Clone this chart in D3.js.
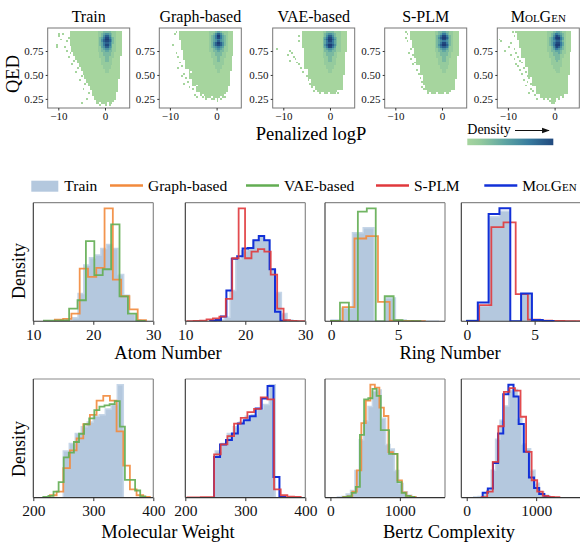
<!doctype html>
<html lang="en">
<head>
<meta charset="UTF-8" />
<title>Molecule property distributions</title>
<script src="https://d3js.org/d3.v7.min.js"></script>
<style>
  body, html { margin: 0; padding: 0; background: #fff; }
  svg { display: block; font-family: "Liberation Serif", "Times New Roman", serif; }
</style>
</head>
<body>
<svg id="chart" width="580" height="542"></svg>
<script>
// ---------- QED vs penalized logP (2D histograms, density level per cell, "." = empty)
const gridX0 = -12, gridDX = 0.4;   // logP bins, left to right
const gridY0 = 0.96, gridDY = 0.02; // QED bins, top row first
const heatTitles = ["Train", "Graph-based", "VAE-based", "S-PLM", "MolGen"];

const heatTrain = [
  "...........111111111111111" + "2223333222" + "111.",
  ".....1.1...111111111111111" + "2234554322" + "111.",
  ".....1.....111111111111111" + "2235775322" + "111.",
  "..........1111111111111111" + "2346886432" + "111.",
  "......1....111111111111111" + "2357997532" + "111.",
  ".........1.111111111111111" + "2357887532" + "111.",
  "...........111111111111111" + "2346776432" + "111.",
  "....1......111111111111111" + "2346886422" + "111.",
  "....1...1...11111111111111" + "2245775422" + "111.",
  "............11111111111111" + "2234554322" + "111.",
  ".........1..11111111111111" + "2233443322" + "111.",
  "...........1.1111111111111" + "1223333221" + "111.",
  ".............1111111111111" + "1223333221" + "111.",
  "..........1...111111111111" + "1222332221" + "11..",
  "..............111111111111" + "1122332211" + "11..",
  ".............1.11111111111" + "1122332211" + "11..",
  "...............11111111111" + "1122222211" + "11..",
  "............1...1111111111" + "1122222211" + "11..",
  "................1111111111" + "1112222111" + "11..",
  "...............1.111111111" + "1112222111" + "11..",
  ".................111111111" + "1111221111" + "11..",
  "..............1...11111111" + "1111221111" + "11..",
  "..................11111111" + "1111111111" + "11..",
  ".................1.1111111" + "1111111111" + "11..",
  "...................1111111" + "1111111111" + "11..",
  "................1...111111" + "1111111111" + "1...",
  "....................111111" + "1111111111" + "1...",
  "...................1.11111" + "1111111111" + "1...",
  ".....................11111" + "1111111111" + "1...",
  "......................1111" + "1111111111" + "1...",
  "..................1...1111" + "1111111111" + "1...",
  ".......................111" + "1111111111" + "1...",
  ".....................1.111" + "1111111111" + "....",
  ".......................111" + "1111111111" + "....",
  "........................11" + "1111111111" + "....",
  "....................1...11" + "1111111111" + "....",
  ".........................1" + "111111111." + "....",
  ".................1.......1" + "1.111.11.." + "....",
  ".........................." + ".1..1.1..." + "...."
];

const heatGraph = [
  "........1.1111111111111111" + "2223443222" + "111.",
  ".......1..1111111111111111" + "2235775322" + "111.",
  "..........1111111111111111" + "2346996432" + "111.",
  "..........1111111111111111" + "2346886432" + "111.",
  "..........1111111111111111" + "2345665432" + "111.",
  "...........111111111111111" + "2345775432" + "111.",
  "...........111111111111111" + "2357997532" + "111.",
  "......1....111111111111111" + "2357887532" + "111.",
  "...........111111111111111" + "2345665422" + "111.",
  "...........111111111111111" + "2234554322" + "111.",
  "............11111111111111" + "2233443322" + "111.",
  "........1...11111111111111" + "1223333221" + "111.",
  "............11111111111111" + "1223333221" + "111.",
  ".........1..11111111111111" + "1222332221" + "11..",
  "............11111111111111" + "1122332211" + "11..",
  ".............1111111111111" + "1122332211" + "11..",
  "..........1..1111111111111" + "1122222211" + "11..",
  ".............1111111111111" + "1122222211" + "11..",
  "...........1.1111111111111" + "1112222111" + "11..",
  ".........1...1111111111111" + "1112222111" + "11..",
  "...............11111111111" + "1111221111" + "11..",
  "...............1.111111111" + "1111221111" + "1...",
  "............1..11111111111" + "1111111111" + "1...",
  "...........1...11111111111" + "1111111111" + "1...",
  ".............1.11111111111" + "1111111111" + "1...",
  ".................111111111" + "1111111111" + "1...",
  "..............1..111111111" + "1111111111" + "1...",
  "............1....111111111" + "1111111111" + "1...",
  ".................11.111111" + "1111111111" + "1...",
  "...............1...1111111" + "1111111111" + "....",
  ".................1.1111111" + "1111111111" + "....",
  "...................1111111" + "1111111111" + "....",
  ".....................11111" + "111111111." + "....",
  "..................1..1.111" + "11111111.." + "....",
  "...................1..1.11" + "1.1111.11." + "....",
  "........................1." + ".11.1.1..." + "....",
  ".........................." + "....1....." + "...."
];

const heatVae = [
  "...............11111111111" + "2233332222" + "111.",
  "...............11111111111" + "2345543222" + "111.",
  ".............1.11111111111" + "2357753222" + "111.",
  "...............11111111111" + "3468864322" + "111.",
  "...............11111111111" + "3579975322" + "111.",
  ".............1.11111111111" + "3468864322" + "111.",
  "...............11111111111" + "3467764322" + "111.",
  "...............11111111111" + "3579975322" + "111.",
  "...............11111111111" + "3468864222" + "111.",
  ".1..............1111111111" + "2345543222" + "111.",
  "........1.......1111111111" + "2334433222" + "111.",
  ".........1......1111111111" + "2233332211" + "11..",
  ".......1........1111111111" + "2233332211" + "11..",
  "..........1.....1111111111" + "2223322211" + "11..",
  "...........1....1111111111" + "1223322111" + "11..",
  "........1.......1111111111" + "1223322111" + "11..",
  "............1...1111111111" + "1222222111" + "11..",
  ".............1..1111111111" + "1222222111" + "11..",
  "................1111111111" + "1122221111" + "11..",
  "..............1.1111111111" + "1122221111" + "11..",
  "..................11111111" + "1112211111" + "11..",
  "...............1..11111111" + "1112211111" + "11..",
  "..................11111111" + "1111111111" + "11..",
  ".................111111111" + "1111111111" + "1...",
  "..................11111111" + "1111111111" + "1...",
  "..................1.111111" + "1111111111" + "1...",
  "....................111111" + "1111111111" + "1...",
  "...................1111111" + "1111111111" + "1...",
  "....................111111" + "1111111111" + "1...",
  "....................1.1111" + "1111111111" + "1...",
  "......................1111" + "1111111111" + "1...",
  ".....................1.111" + "11111111.." + "....",
  "........................1." + ".11.111.1." + "...."
];

const heatSplm = [
  "..........1..1111111111111" + "2233443322" + "111.",
  "...........1.1111111111111" + "2234664322" + "111.",
  ".............1111111111111" + "2346886432" + "111.",
  "..........1..1111111111111" + "2357997532" + "111.",
  ".............1111111111111" + "2346886432" + "111.",
  "...........1..111111111111" + "2345665432" + "111.",
  "..............111111111111" + "2346886432" + "111.",
  "..............111111111111" + "2357997532" + "111.",
  "..............111111111111" + "2346776422" + "111.",
  ".............1.11111111111" + "2234554322" + "111.",
  "...............11111111111" + "2233443322" + "111.",
  "............1..11111111111" + "1223333221" + "111.",
  "..............111111111111" + "1223333221" + "111.",
  "...............11111111111" + "1222332221" + "11..",
  ".............1..1111111111" + "1122332211" + "11..",
  "................1111111111" + "1122332211" + "11..",
  "...............11111111111" + "1122222211" + "11..",
  "..............1.1111111111" + "1122222211" + "11..",
  "..................11111111" + "1112222111" + "11..",
  "..................11111111" + "1112222111" + "11..",
  "................1.11111111" + "1111221111" + "11..",
  "..................11111111" + "1111221111" + "11..",
  ".................111111111" + "1111111111" + "11..",
  "....................111111" + "1111111111" + "11..",
  "..................1.111111" + "1111111111" + "11..",
  "....................111111" + "1111111111" + "1...",
  "...................1111111" + "1111111111" + "1...",
  "....................111111" + "1111111111" + "1...",
  ".....................11111" + "1111111111" + "1...",
  "...................1.11111" + "1111111111" + "1...",
  "....................111111" + "1111111111" + "1...",
  "......................1111" + "111111111." + "....",
  "......................1.11" + "1.111.11.." + "...."
];

const heatMolgen = [
  ".......1.11111111111111111" + "2223344322" + "111.",
  "..........1111111111111111" + "2234665432" + "111.",
  "........1.1111111111111111" + "2235787532" + "111.",
  "..........1111111111111111" + "2346899642" + "111.",
  "1.........1111111111111111" + "2346788642" + "111.",
  ".1.........111111111111111" + "2345677532" + "111.",
  "......1....111111111111111" + "2346788642" + "111.",
  "...........111111111111111" + "2346899642" + "111.",
  ".....1.....111111111111111" + "2235787532" + "111.",
  "........1...11111111111111" + "2234665432" + "111.",
  "...1........11111111111111" + "2233444322" + "111.",
  ".........1..11111111111111" + "1223334322" + "11..",
  "......1.....11111111111111" + "1223333221" + "11..",
  "..........1.11111111111111" + "1222333221" + "11..",
  "........1.....111111111111" + "1122333211" + "11..",
  "...........1..111111111111" + "1122232211" + "11..",
  "............1.111111111111" + "1122222211" + "11..",
  ".........1....111111111111" + "1122222211" + "11..",
  "..........1...111111111111" + "1112222211" + "11..",
  ".............1..1111111111" + "1112222111" + "11..",
  "...........1....1111111111" + "1111222111" + "11..",
  "..............1.1111111111" + "1111122111" + "11..",
  "............1...1111111111" + "1111111111" + "11..",
  "...............11111111111" + "1111111111" + "1...",
  "................1.11111111" + "1111111111" + "1...",
  ".............1....11111111" + "1111111111" + "1...",
  "...............1..11111111" + "1111111111" + "1...",
  ".................111111111" + "1111111111" + "1...",
  "..............1...11111111" + "1111111111" + "1...",
  "....................111111" + "1111111111" + "1...",
  ".................1..111111" + "1111111111" + "1...",
  "..................1.111111" + "1111111111" + "1...",
  "................1...111111" + "1111111111" + "1...",
  "...................1..1111" + "111111111." + "....",
  "......................1111" + "1111111.1." + "....",
  "....................1...1." + "1.111.1..." + "....",
  ".........................." + ".1111....." + "....",
  ".........................." + "..11......" + "...."
];

const heatGrids = [heatTrain, heatGraph, heatVae, heatSplm, heatMolgen];
const heatXTicks = [-10, 0];
const heatYTicks = [0.25, 0.5, 0.75];

// ---------- 1D histograms: [first bin edge, bin width] and heights (density)
const seriesNames = ["Train", "Graph-based", "VAE-based", "S-PLM", "MolGen"];

const atomTrainBins = [14.61, 0.95];
const atomTrain = [0.005, 0.01, 0.03, 0.234, 0.475, 0.537, 0.56, 0.616, 0.65, 0.616, 0.395, 0.22, 0.06, 0.01, 0.003];
const atomGraphBins = [13.59, 1.381];
const atomGraph = [0.014, 0.02, 0.065, 0.446, 0.376, 0.452, 0.955, 0.353, 0.212, 0.10, 0.01];
const atomVaeBins = [11.77, 1.4];
const atomVae = [0.005, 0.005, 0.008, 0.107, 0.178, 0.678, 0.39, 0.44, 0.82, 0.21, 0.065, 0.003];
const atomSplmBins = [10.33, 1.07];
const atomSplm = [0.002, 0.003, 0.005, 0.014, 0.023, 0.036, 0.17, 0.48, 0.86, 0.48, 0.53, 0.55, 0.53, 0.355, 0.096, 0.009, 0.003, 0.002, 0.001];
const atomMolgenBins = [14.15, 0.9];
const atomMolgen = [0.005, 0.009, 0.036, 0.234, 0.477, 0.495, 0.554, 0.558, 0.617, 0.65, 0.617, 0.396, 0.072, 0.005];

const ringTrainBins = [0, 0.8];
const ringTrain = [0.01, 0.11, 0.749, 0.79, 0, 0.198, 0.01, 0.003, 0.001, 0.001];
const ringGraphBins = [0, 0.875];
const ringGraph = [0.003, 0.12, 0.70, 0.72, 0.164, 0.005, 0.003, 0.002];
const ringVaeBins = [0, 0.667];
const ringVae = [0.003, 0.158, 0, 0.927, 0.955, 0, 0.212, 0.01, 0, 0.002];
const ringSplmBins = [0, 0.9];
const ringSplm = [0.002, 0.116, 0.675, 0.71, 0.195, 0.012, 0.004, 0.0025, 0.0017, 0.0008];
const ringMolgenBins = [0, 0.8];
const ringMolgen = [0.003, 0.134, 0.77, 0.81, 0, 0.2, 0.0085, 0.002];

const mwTrainBins = [250, 10];
const mwTrain = [0.393, 0.458, 0.542, 0.598, 0.64, 0.688, 0.70, 0.75, 0.787, 0.955];
const mwGraphBins = [227.8, 11.1];
const mwGraph = [0.02, 0.05, 0.25, 0.40, 0.50, 0.62, 0.70, 0.82, 0.86, 0.82, 0.56, 0.27, 0.07, 0.02, 0.005];
const mwVaeBins = [216.7, 8.5];
const mwVae = [0.005, 0.015, 0.05, 0.13, 0.34, 0.38, 0.47, 0.54, 0.62, 0.67, 0.74, 0.77, 0.78, 0.79, 0.815, 0.60, 0.15, 0.15, 0.06, 0.01];
const mwSplmBins = [203.6, 11.1];
const mwSplm = [0.002, 0.002, 0.003, 0.003, 0.365, 0.45, 0.52, 0.626, 0.674, 0.722, 0.75, 0.848, 0.83, 0.07, 0.02, 0.008, 0.005];
const mwMolgenBins = [248, 9.9];
const mwMolgen = [0.343, 0.45, 0.486, 0.542, 0.626, 0.654, 0.688, 0.753, 0.837, 0.944, 0.174, 0.005];

const bertzTrainBins = [101, 63];
const bertzTrain = [0.005, 0.01, 0.03, 0.06, 0.23, 0.49, 0.65, 0.77, 0.90, 0.91, 0.67, 0.45, 0.41, 0.23, 0.12, 0.05, 0.02, 0.008];
const bertzGraphBins = [185, 65];
const bertzGraph = [0.005, 0.01, 0.05, 0.23, 0.63, 0.82, 0.955, 0.93, 0.76, 0.69, 0.385, 0.37, 0.146, 0.045, 0.015, 0.005];
const bertzVaeBins = [185, 60];
const bertzVae = [0.003, 0.01, 0.04, 0.09, 0.53, 0.83, 0.84, 0.92, 0.86, 0.57, 0.57, 0.37, 0.37, 0.13, 0.04, 0.015, 0.005];
const bertzSplmBins = [215, 80];
const bertzSplm = [0.003, 0.05, 0.3, 0.6, 0.89, 0.92, 0.9, 0.68, 0.385, 0.146, 0.05, 0.015, 0.005, 0.003];
const bertzMolgenBins = [230, 74];
const bertzMolgen = [0.04, 0.076, 0.29, 0.54, 0.87, 0.95, 0.85, 0.62, 0.385, 0.17, 0.08, 0.03, 0.008];

const atomTicks = [10, 20, 30];
const ringTicks = [0, 5];
const mwTicks = [200, 300, 400];
const bertzTicks = [0, 1000];

// ---------- styles
const svg = d3.select("#chart");
const colors = {
  train: "#b4c8de", trainEdge: "#c6d6e8",
  graph: "#f28a3c", vae: "#62ad52", splm: "#e0383c", molgen: "#1230d8"
};
const heatColor = d3.scaleLinear()
  .domain([1, 2, 4, 6, 8.5])
  .range(["#a6d59e", "#95cb9d", "#5fa6a2", "#377b9e", "#1c3d76"])
  .clamp(true);

function styleAxis(g, size) {
  g.select(".domain").remove();
  g.selectAll(".tick line").attr("stroke", "#333");
  g.selectAll(".tick text")
    .attr("fill", "#111")
    .style("font-family", '"Liberation Serif", "Times New Roman", serif')
    .style("font-size", size + "px");
}

// ---------- top row: heatmaps
const heatLeft = [47.7, 159.3, 272.7, 384.7, 497.3];
const heatW = 82, heatTop = 28, heatBottom = 108;

heatGrids.forEach((grid, i) => {
  const left = heatLeft[i];
  const x = d3.scaleLinear().domain([-12.27, 5.29]).range([left, left + heatW]);
  const y = d3.scaleLinear().domain([0.155, 0.99]).range([heatBottom, heatTop]);
  const g = svg.append("g");

  const cells = [];
  grid.forEach((row, r) => {
    for (let c = 0; c < row.length; c++) {
      if (row[c] !== ".") cells.push({ c, r, v: +row[c] });
    }
  });

  g.selectAll("rect.cell").data(cells).join("rect")
    .attr("class", "cell")
    .attr("x", d => x(gridX0 + d.c * gridDX))
    .attr("width", d => x(gridX0 + (d.c + 1) * gridDX) - x(gridX0 + d.c * gridDX))
    .attr("y", d => y(gridY0 - d.r * gridDY))
    .attr("height", d => y(gridY0 - (d.r + 1) * gridDY) - y(gridY0 - d.r * gridDY))
    .attr("fill", d => heatColor(d.v))
    .attr("shape-rendering", "crispEdges");

  g.append("rect")
    .attr("x", left).attr("y", heatTop)
    .attr("width", heatW).attr("height", heatBottom - heatTop)
    .attr("fill", "none").attr("stroke", "#777").attr("stroke-width", 1);

  const xa = g.append("g").attr("transform", `translate(0,${heatBottom})`)
    .call(d3.axisBottom(x).tickValues(heatXTicks).tickSize(2.5).tickPadding(1.5).tickFormat(d3.format("d")));
  styleAxis(xa, 11);
  const ya = g.append("g").attr("transform", `translate(${left},0)`)
    .call(d3.axisLeft(y).tickValues(heatYTicks).tickSize(2).tickPadding(2.2).tickFormat(d3.format(".2f")));
  styleAxis(ya, 11);

  const t = g.append("text")
    .attr("x", left + heatW / 2).attr("y", 21.5)
    .attr("text-anchor", "middle")
    .style("font-size", "16px")
    .text(heatTitles[i]);
  if (heatTitles[i] === "MolGen") t.style("font-variant", "small-caps");
});

svg.append("text")
  .attr("transform", "translate(12.7,74) rotate(-90)")
  .attr("text-anchor", "middle").attr("dy", "0.35em")
  .style("font-size", "18.5px").text("QED");
svg.append("text")
  .attr("x", 311).attr("y", 139.5)
  .attr("text-anchor", "middle")
  .style("font-size", "18.5px").text("Penalized logP");

// colour bar
const defs = svg.append("defs");
const grad = defs.append("linearGradient").attr("id", "cbar");
d3.range(1, 8.01, 0.5).forEach(v => {
  grad.append("stop").attr("offset", (v - 1) / 7).attr("stop-color", heatColor(v));
});
svg.append("rect")
  .attr("x", 467.3).attr("y", 138.6).attr("width", 86).attr("height", 6.6)
  .attr("fill", "url(#cbar)");
svg.append("text")
  .attr("x", 467.3).attr("y", 134.3)
  .style("font-size", "14px").text("Density");
defs.append("marker")
  .attr("id", "arrow").attr("viewBox", "0 0 10 10")
  .attr("refX", 9).attr("refY", 5)
  .attr("markerWidth", 7).attr("markerHeight", 7).attr("orient", "auto")
  .append("path").attr("d", "M0,1.5 L10,5 L0,8.5 Z").attr("fill", "#111");
svg.append("line")
  .attr("x1", 515).attr("x2", 549).attr("y1", 130.5).attr("y2", 130.5)
  .attr("stroke", "#111").attr("stroke-width", 1.1)
  .attr("marker-end", "url(#arrow)");

// ---------- legend
const legendX = [31.3, 110, 246, 376, 484.3];
const legendKinds = ["train", "graph", "vae", "splm", "molgen"];
legendKinds.forEach((k, i) => {
  const lx = legendX[i];
  if (k === "train") {
    svg.append("rect").attr("x", lx).attr("y", 180.7).attr("width", 27).attr("height", 11)
      .attr("fill", colors.train);
  } else {
    svg.append("line").attr("x1", lx).attr("x2", lx + 33).attr("y1", 185.5).attr("y2", 185.5)
      .attr("stroke", colors[k]).attr("stroke-width", 2.6);
  }
  const t = svg.append("text")
    .attr("x", lx + (k === "train" ? 33 : 38)).attr("y", 190.5)
    .style("font-size", "15.5px").text(seriesNames[i]);
  if (k === "molgen") t.style("font-variant", "small-caps");
});

// ---------- histogram panels
const histCols = [33.3, 185.3, 325, 461.3];
const histW = 120;
const histRows = [202.7, 379];
const histH = 118.6;

const panels = [
  { row: 0, col: 0, dom: [10, 30], ticks: atomTicks, train: [atomTrainBins, atomTrain],
    lines: [["graph", atomGraphBins, atomGraph], ["vae", atomVaeBins, atomVae]] },
  { row: 0, col: 1, dom: [10, 30], ticks: atomTicks, train: [atomTrainBins, atomTrain],
    lines: [["molgen", atomMolgenBins, atomMolgen], ["splm", atomSplmBins, atomSplm]] },
  { row: 0, col: 2, dom: [-0.45, 8.5], ticks: ringTicks, train: [ringTrainBins, ringTrain],
    lines: [["graph", ringGraphBins, ringGraph], ["vae", ringVaeBins, ringVae]] },
  { row: 0, col: 3, dom: [-0.42, 8.45], ticks: ringTicks, train: [ringTrainBins, ringTrain],
    lines: [["splm", ringSplmBins, ringSplm], ["molgen", ringMolgenBins, ringMolgen]] },
  { row: 1, col: 0, dom: [200, 400], ticks: mwTicks, train: [mwTrainBins, mwTrain],
    lines: [["graph", mwGraphBins, mwGraph], ["vae", mwVaeBins, mwVae]] },
  { row: 1, col: 1, dom: [200, 400], ticks: mwTicks, train: [mwTrainBins, mwTrain],
    lines: [["molgen", mwMolgenBins, mwMolgen], ["splm", mwSplmBins, mwSplm]] },
  { row: 1, col: 2, dom: [-78, 1650], ticks: bertzTicks, train: [bertzTrainBins, bertzTrain],
    lines: [["graph", bertzGraphBins, bertzGraph], ["vae", bertzVaeBins, bertzVae]] },
  { row: 1, col: 3, dom: [-78, 1650], ticks: bertzTicks, train: [bertzTrainBins, bertzTrain],
    lines: [["molgen", bertzMolgenBins, bertzMolgen], ["splm", bertzSplmBins, bertzSplm]] }
];

// step outline of a histogram as [x, y] points
function stepPoints(bins, h) {
  const [start, w] = bins;
  const pts = [[start, 0]];
  h.forEach((v, i) => {
    pts.push([start + i * w, v]);
    pts.push([start + (i + 1) * w, v]);
  });
  pts.push([start + h.length * w, 0]);
  return pts;
}

panels.forEach((p, pi) => {
  const left = histCols[p.col], top = histRows[p.row];
  const x = d3.scaleLinear().domain(p.dom).range([left, left + histW]);
  const ymax = d3.max([p.train[1], ...p.lines.map(l => l[2])], a => d3.max(a));
  const y = d3.scaleLinear().domain([0, ymax * 1.05]).range([top + histH, top]);
  const line = d3.line().x(d => x(d[0])).y(d => y(d[1]));

  defs.append("clipPath").attr("id", "clip" + pi)
    .append("rect").attr("x", left).attr("y", top - 2).attr("width", histW).attr("height", histH + 2);
  const g = svg.append("g");
  const inner = g.append("g").attr("clip-path", `url(#clip${pi})`);

  inner.append("path")
    .attr("d", line(stepPoints(p.train[0], p.train[1])) + "Z")
    .attr("fill", colors.train)
    .attr("stroke", colors.trainEdge).attr("stroke-width", 1.5);

  p.lines.forEach(([k, bins, h]) => {
    inner.append("path")
      .attr("d", line(stepPoints(bins, h)))
      .attr("fill", "none")
      .attr("stroke", colors[k])
      .attr("stroke-width", k === "molgen" ? 2 : 1.8)
      .attr("stroke-opacity", k === "molgen" ? 1 : 0.9)
      .attr("stroke-linejoin", "miter");
  });

  // frame: darker left/bottom, grey top/right
  g.append("line").attr("x1", left).attr("x2", left + histW).attr("y1", top).attr("y2", top)
    .attr("stroke", "#8a8a8a").attr("stroke-width", 1.2);
  g.append("line").attr("x1", left + histW).attr("x2", left + histW).attr("y1", top).attr("y2", top + histH)
    .attr("stroke", "#8a8a8a").attr("stroke-width", 1.2);
  g.append("line").attr("x1", left).attr("x2", left).attr("y1", top).attr("y2", top + histH)
    .attr("stroke", "#333").attr("stroke-width", 1.1);
  g.append("line").attr("x1", left).attr("x2", left + histW).attr("y1", top + histH).attr("y2", top + histH)
    .attr("stroke", "#333").attr("stroke-width", 1.1);

  const xa = g.append("g").attr("transform", `translate(0,${top + histH})`)
    .call(d3.axisBottom(x).tickValues(p.ticks).tickSize(3.5).tickPadding(4).tickFormat(d3.format("d")));
  styleAxis(xa, 15.5);
});

// axis titles
const xTitles = [
  ["Atom Number", 168, 359], ["Ring Number", 450, 359],
  ["Molecular Weight", 168, 538], ["Bertz Complexity", 449, 538]
];
xTitles.forEach(([t, tx, ty]) => {
  svg.append("text").attr("x", tx).attr("y", ty)
    .attr("text-anchor", "middle").style("font-size", "18.5px").text(t);
});
[[18.3, 271], [18.3, 449]].forEach(([tx, ty]) => {
  svg.append("text")
    .attr("transform", `translate(${tx},${ty}) rotate(-90)`)
    .attr("text-anchor", "middle").attr("dy", "0.35em")
    .style("font-size", "18px").text("Density");
});
</script>
</body>
</html>
